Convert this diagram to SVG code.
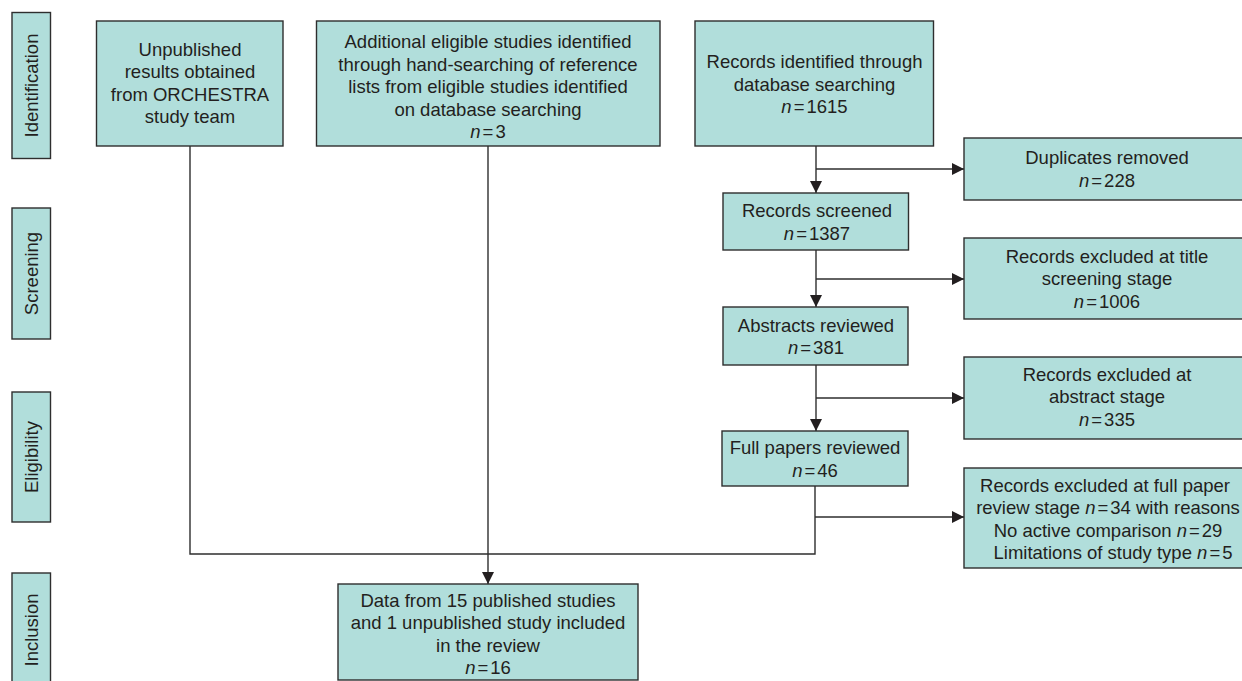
<svg xmlns="http://www.w3.org/2000/svg" width="1242" height="681" viewBox="0 0 1242 681">
<style>
.box{fill:#b1dedb;stroke:#2e2e2e;stroke-width:1.4}
.t{font-family:"Liberation Sans",Arial,Helvetica,sans-serif;font-size:18.5px;fill:#231f20;text-anchor:middle}
.i{font-style:italic}
.c{fill:none;stroke:#2e2e2e;stroke-width:1.4}
</style>
<defs>
<marker id="ah" markerWidth="12" markerHeight="12" viewBox="0 0 12 12" refX="12" refY="6" orient="auto" markerUnits="userSpaceOnUse">
<path d="M0,0 L12,6 L0,12 Z" fill="#231f20"/>
</marker>
</defs>
<rect x="0" y="0" width="1242" height="681" fill="#ffffff"/>

<g id="connectors">
<line class="c" x1="816" y1="146" x2="816" y2="193" marker-end="url(#ah)"/>
<line class="c" x1="816" y1="169" x2="964" y2="169" marker-end="url(#ah)"/>
<line class="c" x1="816" y1="250" x2="816" y2="307" marker-end="url(#ah)"/>
<line class="c" x1="816" y1="279" x2="964" y2="279" marker-end="url(#ah)"/>
<line class="c" x1="816" y1="365" x2="816" y2="431" marker-end="url(#ah)"/>
<line class="c" x1="816" y1="398" x2="964" y2="398" marker-end="url(#ah)"/>
<line class="c" x1="815" y1="517" x2="964" y2="517" marker-end="url(#ah)"/>
<polyline class="c" points="815,486 815,554 190,554 190,146"/>
<line class="c" x1="488" y1="146" x2="488" y2="584" marker-end="url(#ah)"/>
</g>

<g id="side-identification">
<rect class="box" x="12" y="12.5" width="38.5" height="146"/>
<text class="t" transform="translate(31.5,85.5) rotate(-90)" y="6.5">Identification</text>
</g>
<g id="side-screening">
<rect class="box" x="12" y="208" width="38.5" height="131"/>
<text class="t" transform="translate(31.5,273.5) rotate(-90)" y="6.5">Screening</text>
</g>
<g id="side-eligibility">
<rect class="box" x="12" y="392" width="38.5" height="130"/>
<text class="t" transform="translate(31.5,457) rotate(-90)" y="6.5">Eligibility</text>
</g>
<g id="side-inclusion">
<rect class="box" x="12" y="573" width="38.5" height="115"/>
<text class="t" transform="translate(31.5,630) rotate(-90)" y="6.5">Inclusion</text>
</g>

<g id="unpublished">
<rect class="box" x="96.5" y="21" width="186.5" height="125"/>
<text class="t" x="190" y="55.5">Unpublished</text>
<text class="t" x="190" y="78">results obtained</text>
<text class="t" x="190" y="100.5">from ORCHESTRA</text>
<text class="t" x="190" y="123">study team</text>
</g>

<g id="additional">
<rect class="box" x="316.5" y="21" width="343.5" height="125"/>
<text class="t" x="488" y="48">Additional eligible studies identified</text>
<text class="t" x="488" y="70.5">through hand-searching of reference</text>
<text class="t" x="488" y="93">lists from eligible studies identified</text>
<text class="t" x="488" y="115.5">on database searching</text>
<text class="t" x="488" y="138"><tspan class="i">n</tspan><tspan dx="2">=</tspan><tspan dx="2">3</tspan></text>
</g>

<g id="records-identified">
<rect class="box" x="695" y="21" width="238.5" height="125"/>
<text class="t" x="814.5" y="68">Records identified through</text>
<text class="t" x="814.5" y="90.5">database searching</text>
<text class="t" x="814.5" y="113"><tspan class="i">n</tspan><tspan dx="2">=</tspan><tspan dx="2">1615</tspan></text>
</g>

<g id="duplicates">
<rect class="box" x="964" y="138" width="292" height="62"/>
<text class="t" x="1107" y="164">Duplicates removed</text>
<text class="t" x="1107" y="186.5"><tspan class="i">n</tspan><tspan dx="2">=</tspan><tspan dx="2">228</tspan></text>
</g>

<g id="records-screened">
<rect class="box" x="723" y="193" width="185.5" height="57"/>
<text class="t" x="817" y="217">Records screened</text>
<text class="t" x="817" y="239.5"><tspan class="i">n</tspan><tspan dx="2">=</tspan><tspan dx="2">1387</tspan></text>
</g>

<g id="title-excluded">
<rect class="box" x="964" y="238" width="292" height="81"/>
<text class="t" x="1107" y="262.5">Records excluded at title</text>
<text class="t" x="1107" y="285">screening stage</text>
<text class="t" x="1107" y="307.5"><tspan class="i">n</tspan><tspan dx="2">=</tspan><tspan dx="2">1006</tspan></text>
</g>

<g id="abstracts">
<rect class="box" x="723" y="307" width="185" height="58"/>
<text class="t" x="816" y="331.5">Abstracts reviewed</text>
<text class="t" x="816" y="353.5"><tspan class="i">n</tspan><tspan dx="2">=</tspan><tspan dx="2">381</tspan></text>
</g>

<g id="abstract-excluded">
<rect class="box" x="964" y="357" width="292" height="82"/>
<text class="t" x="1107" y="380.5">Records excluded at</text>
<text class="t" x="1107" y="403">abstract stage</text>
<text class="t" x="1107" y="425.5"><tspan class="i">n</tspan><tspan dx="2">=</tspan><tspan dx="2">335</tspan></text>
</g>

<g id="full-papers">
<rect class="box" x="722" y="431" width="186" height="55"/>
<text class="t" x="815" y="454">Full papers reviewed</text>
<text class="t" x="815" y="476.5"><tspan class="i">n</tspan><tspan dx="2">=</tspan><tspan dx="2">46</tspan></text>
</g>

<g id="fullpaper-excluded">
<rect class="box" x="964" y="468" width="292" height="100"/>
<text class="t" x="1105" y="491.5">Records excluded at full paper</text>
<text class="t" x="1108" y="514">review stage <tspan class="i">n</tspan><tspan dx="2">=</tspan><tspan dx="2">34</tspan> with reasons</text>
<text class="t" x="1108" y="536.5">No active comparison <tspan class="i">n</tspan><tspan dx="2">=</tspan><tspan dx="2">29</tspan></text>
<text class="t" x="1113" y="558.5">Limitations of study type <tspan class="i">n</tspan><tspan dx="2">=</tspan><tspan dx="2">5</tspan></text>
</g>

<g id="included">
<rect class="box" x="338" y="584" width="300" height="96"/>
<text class="t" x="488" y="606.5">Data from 15 published studies</text>
<text class="t" x="488" y="629">and 1 unpublished study included</text>
<text class="t" x="488" y="651.5">in the review</text>
<text class="t" x="488" y="674"><tspan class="i">n</tspan><tspan dx="2">=</tspan><tspan dx="2">16</tspan></text>
</g>
</svg>
